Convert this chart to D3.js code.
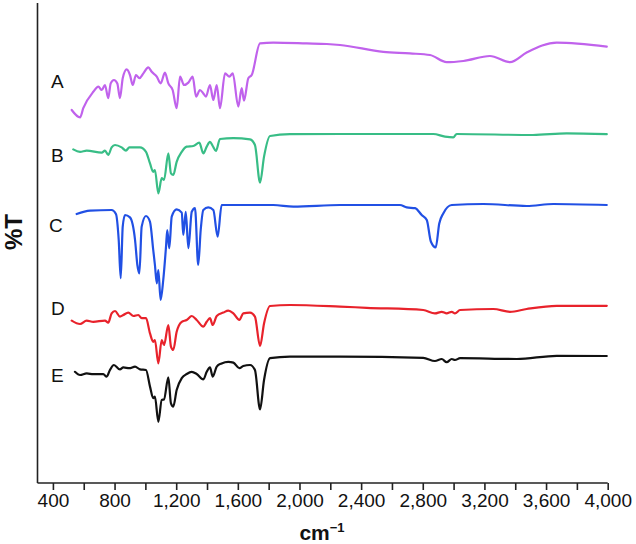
<!DOCTYPE html>
<html><head><meta charset="utf-8">
<script src="https://cdn.jsdelivr.net/npm/d3@7"></script>
<style>body{margin:0;background:#fff}svg{display:block}</style>
</head><body>
<svg id="c" width="636" height="544"></svg>
<script>
// Wavenumbers (cm-1) and %T values (stacked, arbitrary offset units)
const seriesNames = ["A", "B", "C", "D", "E"];
const seriesColors = ["#c062ec", "#38bd86", "#2150e4", "#e8222b", "#111111"];
const xTickValues = [400, 800, 1200, 1600, 2000, 2400, 2800, 3200, 3600, 4000];
const xMinorTicks = [600, 1000, 1400, 1800, 2200, 2600, 3000, 3400, 3800];

const wnA = [522,576,597,662,695,717,738,759,775,796,818,835,853,879,900,918,939,961,987,1019,1041,1074,1099,1127,1149,1177,1203,1225,1251,1279,1307,1329,1354,1376,1393,1419,1441,1463,1484,1517,1545,1567,1603,1625,1640,1668,1690,1744,1830,2047,2177,2263,2544,2717,2847,2955,3063,3236,3366,3474,3669,3994];
const tA = [93.25,91.4,93.7,97.8,99.1,98.25,99.5,96.2,99.9,100.75,99.9,96.2,101.2,103.4,102,99.5,102,101.2,102.4,103.9,102.8,101.6,99.9,102.6,99.9,98.25,93.7,101.6,99.5,100.1,101.6,96.6,98.25,97.4,96.6,99.5,95.75,99.5,93.7,102.4,101.6,102.4,94.1,98.7,95.6,101.2,102,109.9,110.1,109.9,109.75,109.5,107.8,107.4,107,105.2,105.5,106.75,105.2,107.6,110.1,109.1];

const wnB = [532,576,619,717,738,759,781,803,846,874,896,965,1004,1030,1051,1062,1084,1106,1121,1149,1166,1181,1203,1236,1268,1311,1350,1376,1398,1419,1437,1458,1484,1571,1679,1711,1744,1770,1809,1938,2263,2868,2944,2998,3020,3515,3734,3994];
const tB = [83.4,82.8,83.1,82.6,83.1,82,83.9,84.5,83.9,83.1,83.9,83.9,82.8,79.9,77.8,78.25,72.4,76.2,75.75,82.4,77.4,77,80.3,82.8,84.1,84.25,85.1,82.4,84.1,85.3,84.25,83,86,86.2,85.9,84.5,75.1,81.6,86.75,87.2,87.25,87.25,86.6,86.4,87.25,87,87.4,87.2];

const wnC = [554,641,781,809,827,840,853,868,900,933,948,961,976,1004,1030,1051,1062,1074,1084,1099,1116,1134,1142,1155,1171,1203,1236,1246,1262,1279,1301,1322,1343,1359,1376,1408,1441,1469,1495,1614,1830,1960,2263,2652,2696,2750,2793,2826,2853,2884,2907,2933,2988,3193,3474,3647,3994];
const tC = [67.25,68.1,68.25,67.25,60.75,51.2,64.1,67,66.4,60.75,54.5,52.4,64.1,66.75,65.3,58.25,54.5,49.9,53.25,45.75,50.75,59.1,63.25,58.7,66.6,68.4,67.6,62,67.8,58.7,67.8,68.7,54.5,63.25,68.25,68.9,68.25,61.6,69.5,69.5,69.5,69.1,69.5,69.5,68.9,68.7,67,65.75,60.3,58.9,64.9,67.4,69.5,69.75,69.25,69.75,69.5];

const wnD = [522,576,619,662,738,759,781,803,835,857,889,922,954,976,1004,1030,1051,1062,1084,1106,1121,1149,1166,1181,1203,1236,1268,1301,1333,1376,1398,1419,1437,1463,1506,1538,1571,1610,1635,1679,1711,1744,1770,1809,1938,2263,2436,2803,2879,2923,2955,2988,3009,3042,3258,3366,3474,3669,3994];
const tD = [40.6,39.75,40.6,40.3,40.6,40.1,42.4,43,41.6,42,42.6,41.75,42,41.2,41.2,37.4,35.3,35.75,29.9,35.75,34.5,39.5,34.1,33.25,37.8,40.3,40.75,41.75,40.75,39.1,40.3,41.2,39.5,41.75,42.6,43.1,42.4,40.75,42.4,42.6,41.6,34.25,39.9,44.25,44.5,44.1,43.8,43.25,42.4,42.8,42.4,42.8,42.4,43.25,43.5,42.8,43.5,44.3,44.3];

const wnE = [543,576,619,662,727,749,770,796,835,857,896,933,965,1004,1030,1051,1062,1084,1106,1121,1149,1166,1181,1203,1236,1268,1301,1333,1376,1398,1419,1437,1463,1495,1538,1571,1610,1635,1679,1711,1744,1770,1809,1938,2263,2803,2879,2923,2955,2988,3009,3042,3410,3669,3994];
const tE = [27.8,27,27.4,27.2,27.2,26.6,28.25,29.5,28.4,28.9,28.7,29.1,28.4,28.25,24.1,21.2,21.6,15.3,20.75,20.9,26.4,19.9,19.1,23.25,26.2,27.25,27.8,27.25,25.9,27.8,28.9,26.6,29.1,29.9,30.3,30.1,28.7,29.25,29.5,28.25,18.4,25.75,31.2,31.6,31.6,31.3,30.5,31,30.2,31,30.75,31.2,31,31.8,31.75];

const labelT = [100.5, 82, 64.5, 43.75, 27];

const svg = d3.select("#c");
const x = d3.scaleLinear().domain([300, 4000]).range([37.5, 607.7]);
const y = d3.scaleLinear().domain([0, 120]).range([483, 3]);

const data = [[wnA,tA],[wnB,tB],[wnC,tC],[wnD,tD],[wnE,tE]];
const line = d3.line().x(d => x(d[0])).y(d => y(d[1])).curve(d3.curveMonotoneX);

data.forEach(([wn, t], i) => {
  const pts = wn.map((w, j) => [w, t[j]]);
  svg.append("path").datum(pts)
    .attr("d", line)
    .attr("fill", "none")
    .attr("stroke", seriesColors[i])
    .attr("stroke-width", 2.2)
    .attr("stroke-linejoin", "round")
    .attr("stroke-linecap", "round");
  svg.append("text")
    .attr("x", i === 2 ? 49 : 51)
    .attr("y", y(labelT[i]))
    .attr("dy", "0.35em")
    .attr("font-family", "Liberation Sans, Arial, sans-serif")
    .attr("font-size", 19)
    .attr("fill", "#111")
    .text(seriesNames[i]);
});

// axes
const axisColor = "#222";
svg.append("line").attr("x1", 37.5).attr("x2", 37.5).attr("y1", 3).attr("y2", 483)
  .attr("stroke", axisColor).attr("stroke-width", 1.6);

const xAxis = d3.axisBottom(x).tickValues(xTickValues.concat(xMinorTicks)).tickSize(7)
  .tickFormat(d => xTickValues.includes(d) ? d3.format(",")(d) : "");
const gx = svg.append("g").attr("transform", "translate(0,483)").call(xAxis);
gx.select(".domain").attr("d", `M${x(300)},0H${x(4000)}`).attr("stroke", axisColor).attr("stroke-width", 1.6);
gx.selectAll(".tick line").attr("stroke", axisColor).attr("stroke-width", 1.6);
gx.selectAll(".tick text")
  .attr("font-family", "Liberation Sans, Arial, sans-serif")
  .attr("font-size", 19).attr("fill", "#111").attr("y", 11);

// axis titles
const xt = svg.append("text").attr("x", 322).attr("y", 540).attr("text-anchor", "middle")
  .attr("font-family", "Liberation Sans, Arial, sans-serif").attr("font-weight", "bold")
  .attr("font-size", 21).attr("fill", "#111");
xt.append("tspan").text("cm");
xt.append("tspan").attr("dy", -8).attr("font-size", 13).text("\u22121");

svg.append("text").attr("transform", "translate(22,232) rotate(-90)")
  .attr("text-anchor", "middle")
  .attr("font-family", "Liberation Sans, Arial, sans-serif").attr("font-weight", "bold")
  .attr("font-size", 24).attr("fill", "#111").text("%T");
</script>
</body></html>
